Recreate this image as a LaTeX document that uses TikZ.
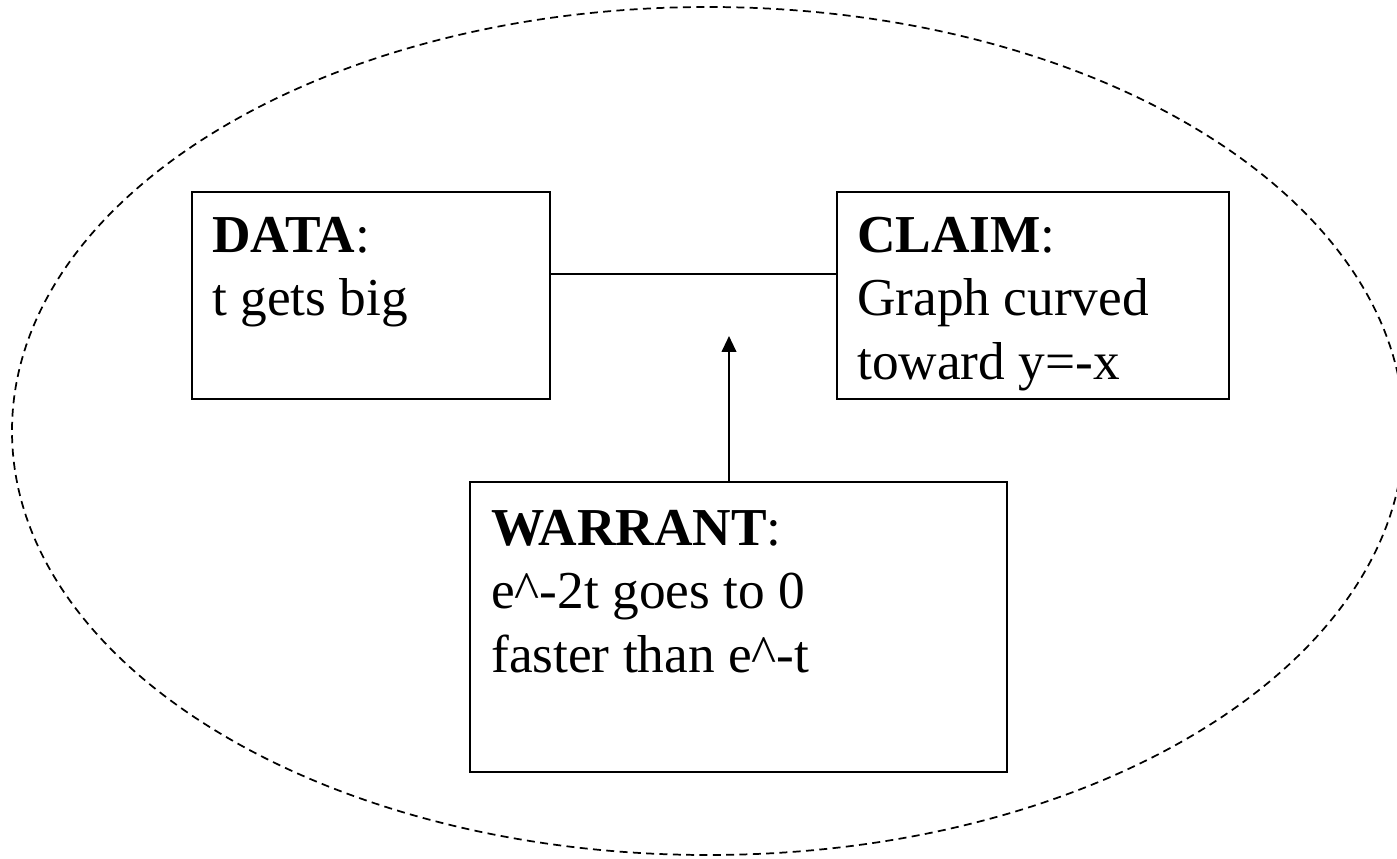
\documentclass[tikz,border=0pt]{standalone}
\usepackage{fontspec}
\setmainfont{Liberation Serif}
\usetikzlibrary{arrows.meta}
\begin{document}
\begin{tikzpicture}[x=0.75pt,y=-0.75pt,
  box/.style={draw=black, line width=1.5pt, rectangle, inner sep=0pt},
  boxtext/.style={anchor=north west, inner sep=0pt, align=left,
    font=\fontsize{40pt}{47.5pt}\selectfont},
  link/.style={draw=black, line width=1.5pt},
  frame/.style={draw=black, line width=1.3pt, dash pattern=on 6pt off 4pt}]
  \useasboundingbox (0,0) rectangle (1397,859);
  \clip (0,0) rectangle (1397,859);

  % dashed boundary
  \draw[frame] (708,431) ellipse [x radius=696, y radius=424];

  % the three boxes
  \node[box, minimum width=268.5pt, minimum height=155.25pt] (data) at (371,295.5) {};
  \node[box, minimum width=294pt, minimum height=155.25pt] (claim) at (1033,295.5) {};
  \node[box, minimum width=402.75pt, minimum height=217.5pt] (warrant) at (738.5,627) {};

  % their texts
  \node[boxtext] (datatext) at (212,217) {\textbf{DATA}:\\t gets big};
  \node[boxtext] (claimtext) at (857,217) {\textbf{CLAIM}:\\Graph curved\\toward y=-x};
  \node[boxtext] (warranttext) at (491,510) {\textbf{WARRANT}:\\e\^{}-2t goes to 0\\faster than e\^{}-t};

  % connectors
  \coordinate (lnk) at (700,274);
  \coordinate (tip) at (729,336);
  \draw[link] (data.east |- lnk) -- (claim.west |- lnk);
  \draw[link, -{Triangle[length=12pt, width=11pt]}] (warrant.north -| tip) -- (tip);
\end{tikzpicture}
\end{document}
